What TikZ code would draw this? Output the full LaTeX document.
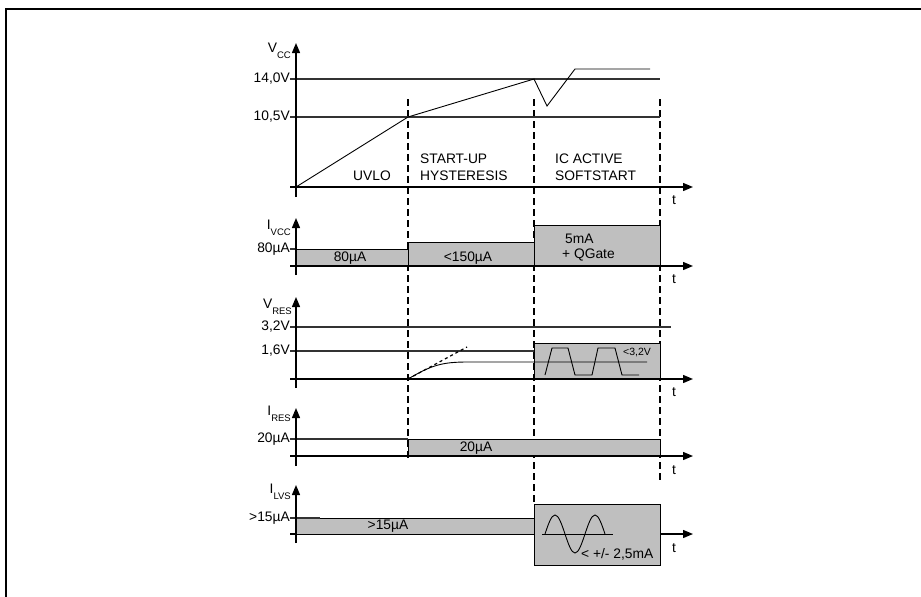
\documentclass[tikz,border=0pt]{standalone}
\usepackage{fontspec}
\setmainfont{Liberation Sans}
\usetikzlibrary{arrows.meta}

\newcommand{\sig}[2]{#1\raisebox{-0.8ex}{\fontsize{9.5}{9.5}\selectfont #2}}

\tikzset{
  axis/.style={line width=1.4pt, arrows = {-Stealth[width=8pt, length=10pt, inset=0pt]}},
  level/.style={line width=1.3pt, black!80},
  phase/.style={line width=1.2pt, dash pattern=on 7pt off 4pt},
  busy/.style={draw, line width=1pt, fill=black!25},
  lbl/.style={font=\fontsize{13.8}{15}\selectfont, inner sep=1pt},
  tiny/.style={font=\fontsize{10.5}{11}\selectfont, inner sep=1pt},
}

\begin{document}
\begin{tikzpicture}[x=1pt, y=-1pt]
\useasboundingbox (0,0) rectangle (921,597);
\draw[line width=1.5pt] (6,597) -- (6,9) -- (921,9);

% phase borders
\draw[phase] (408,99) -- (408,460);
\draw[phase] (534,99) -- (534,504);
\draw[phase] (660,99) -- (660,480);

% V_CC
\draw[level] (290,79) -- (660,79);
\draw[level] (290,117) -- (660,117);
\draw[line width=0.9pt] (296,187) -- (408,117) -- (534,79) -- (547,106) -- (575,69) -- (650,69);
\draw[axis] (290,187) -- (693,187);
\draw[axis] (296,197) -- (296,43);
\node[lbl, anchor=east] (vcc) at (292,51) {\sig{V}{CC}};
\node[lbl, anchor=east] (vcc_hi) at (291,79) {14,0V};
\node[lbl, anchor=east] (vcc_lo) at (291,117) {10,5V};
\node[lbl] (uvlo) at (372,176) {UVLO};
\node[lbl, anchor=west] (start) at (419,159) {START-UP};
\node[lbl, anchor=west] (hyst) at (419,176) {HYSTERESIS};
\node[lbl, anchor=west] (active) at (554,159) {IC ACTIVE};
\node[lbl, anchor=west] (soft) at (554,176) {SOFTSTART};
\node[lbl] (t_vcc) at (674,200) {t};

% I_VCC
\draw[busy] (296,266) rectangle (408,249);
\draw[busy] (408,266) rectangle (534,242);
\draw[busy] (534,266) rectangle (660,225);
\draw[level] (290,249) -- (296,249);
\draw[axis] (290,266) -- (693,266);
\draw[axis] (296,275) -- (296,218);
\node[lbl, anchor=east] (ivcc) at (292,228) {\sig{I}{VCC}};
\node[lbl, anchor=east] (ivcc_lvl) at (291,249) {80µA};
\node[lbl] (ivcc_a) at (350,258) {80µA};
\node[lbl] (ivcc_b) at (468,258) {<150µA};
\node[lbl, anchor=west] (ivcc_c) at (564,239) {5mA};
\node[lbl, anchor=west] (ivcc_d) at (561,255) {+ QGate};
\node[lbl] (t_ivcc) at (674,279) {t};

% V_RES
\draw[level] (290,327) -- (671,327);
\draw[level] (290,351) -- (534,351);
\draw[busy] (534,379) rectangle (660,343);
\draw[line width=0.9pt] (408,379) .. controls (432,365) and (442,362) .. (468,362) -- (647,362);
\draw[dashed, line width=1.2pt] (408,379) -- (467,347);
\draw[line width=0.9pt] (545,375) -- (552,348) -- (568,348) -- (575,375) -- (592,375)
  -- (598,348) -- (615,348) -- (622,375) -- (639,375);
\draw[axis] (290,379) -- (693,379);
\draw[axis] (296,388) -- (296,297);
\node[lbl, anchor=east] (vres) at (293,307) {\sig{V}{RES}};
\node[lbl, anchor=east] (vres_hi) at (291,327) {3,2V};
\node[lbl, anchor=east] (vres_lo) at (291,351) {1,6V};
\node[tiny, anchor=west] (vres_max) at (622,353) {<3,2V};
\node[lbl] (t_vres) at (674,392) {t};

% I_RES
\draw[level] (290,439) -- (408,439);
\draw[busy] (408,456) rectangle (660,439);
\draw[axis] (290,456) -- (693,456);
\draw[axis] (296,466) -- (296,408);
\node[lbl, anchor=east] (ires) at (292,414) {\sig{I}{RES}};
\node[lbl, anchor=east] (ires_lvl) at (291,439) {20µA};
\node[lbl] (ires_a) at (476,448) {20µA};
\node[lbl] (t_ires) at (674,470) {t};

% I_LVS
\draw[axis] (290,534) -- (693,534);
\draw[busy] (296,534) rectangle (534,518);
\draw[level] (290,518) -- (320,518);
\draw[busy] (534,565) rectangle (660,504);
\draw[line width=0.9pt] (542,534) -- (613,534);
\draw[line width=0.9pt] (545,534) sin (555,515) cos (565,534) sin (575,553) cos (585,534)
  sin (595,515) cos (605,534);
\draw[axis] (296,543) -- (296,485);
\node[lbl, anchor=east] (ilvs) at (292,492) {\sig{I}{LVS}};
\node[lbl, anchor=east] (ilvs_lvl) at (291,518) {>15µA};
\node[lbl] (ilvs_a) at (388,526) {>15µA};
\node[lbl, anchor=west] (ilvs_b) at (580,554) {< +/- 2,5mA};
\node[lbl] (t_ilvs) at (674,548) {t};
\end{tikzpicture}
\end{document}
